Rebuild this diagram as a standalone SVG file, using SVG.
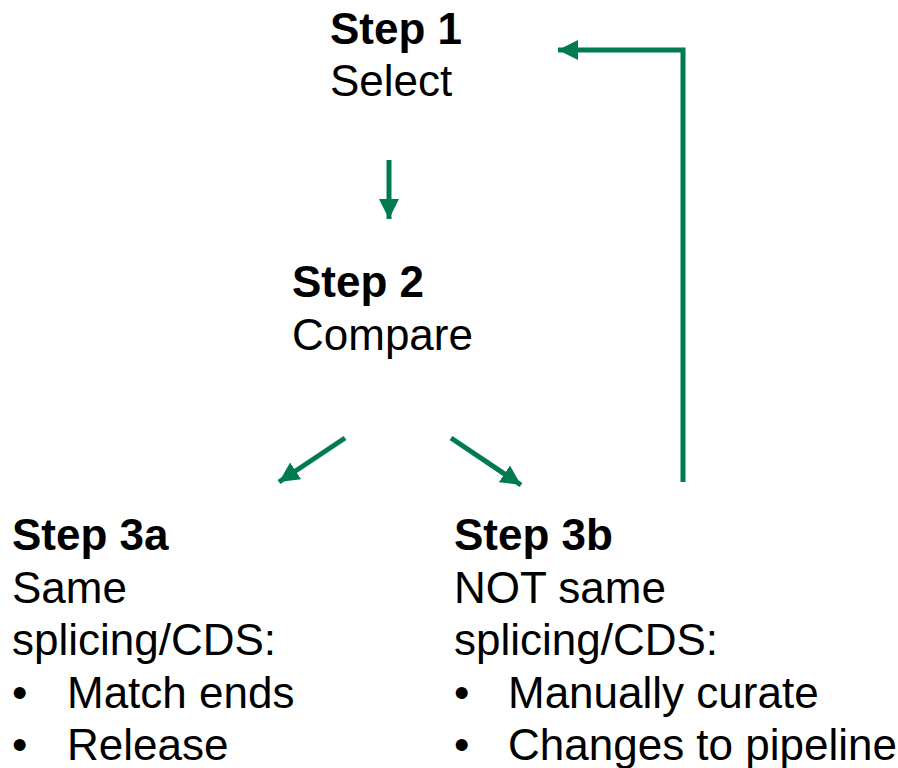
<svg xmlns="http://www.w3.org/2000/svg" width="898" height="768" viewBox="0 0 898 768">
<style>
text{font-family:"Liberation Sans",Arial,sans-serif;font-size:44px;fill:#000}
.b{font-weight:bold}
.c{fill:none;stroke:#007A4F;stroke-width:5}
</style>
<defs>
<marker id="ah" markerUnits="userSpaceOnUse" markerWidth="22" markerHeight="22" refX="20" refY="10" orient="auto" viewBox="0 0 22 20">
<path d="M0,0 L20,10 L0,20 Z" fill="#007A4F"/>
</marker>
</defs>
<rect width="898" height="768" fill="#fff"/>
<g id="connectors">
<line class="c" x1="389" y1="160" x2="389" y2="219" marker-end="url(#ah)"/>
<line class="c" x1="345" y1="438" x2="279" y2="482" marker-end="url(#ah)"/>
<line class="c" x1="451" y1="438" x2="521" y2="485" marker-end="url(#ah)"/>
<polyline class="c" points="683,482 683,50 558,50" marker-end="url(#ah)"/>
</g>
<g id="step1">
<text class="b" x="330" y="44">Step 1</text>
<text x="330" y="96">Select</text>
</g>
<g id="step2">
<text class="b" x="292" y="297">Step 2</text>
<text x="292" y="350">Compare</text>
</g>
<g id="step3a">
<text class="b" x="12" y="550">Step 3a</text>
<text x="12" y="603">Same</text>
<text x="12" y="655">splicing/CDS:</text>
<text x="12" y="708">•</text>
<text x="67" y="708">Match ends</text>
<text x="12" y="760">•</text>
<text x="67" y="760">Release</text>
</g>
<g id="step3b">
<text class="b" x="454" y="550">Step 3b</text>
<text x="454" y="603">NOT same</text>
<text x="454" y="655">splicing/CDS:</text>
<text x="454" y="708">•</text>
<text x="508" y="708">Manually curate</text>
<text x="454" y="760">•</text>
<text x="508" y="760">Changes to pipeline</text>
</g>
</svg>
